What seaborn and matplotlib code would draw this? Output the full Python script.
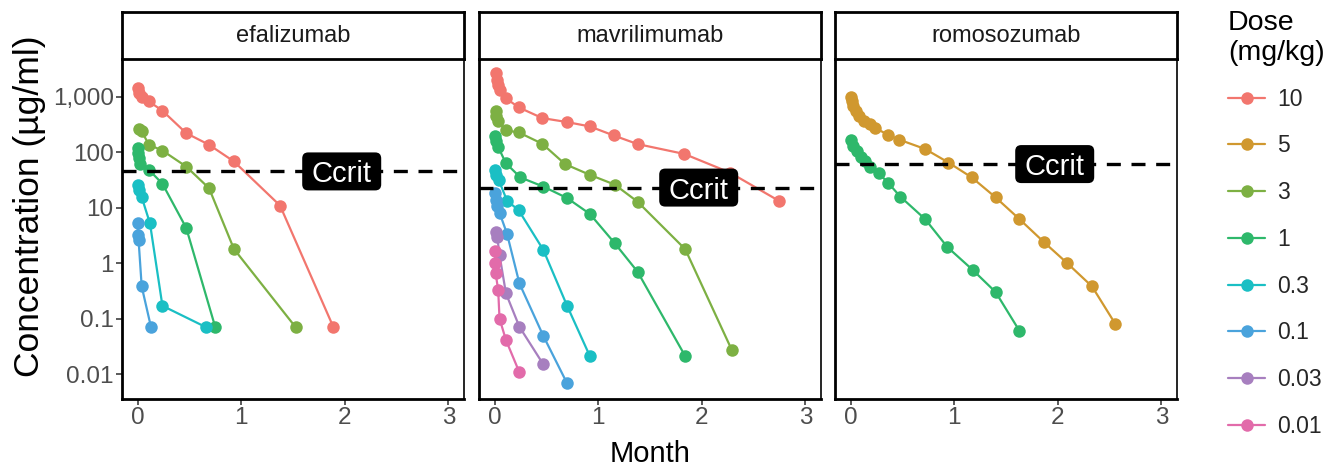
import matplotlib
matplotlib.use("Agg")
import matplotlib.pyplot as plt
from matplotlib.lines import Line2D
from matplotlib.patches import FancyBboxPatch
from matplotlib.transforms import ScaledTranslation
import seaborn as sns
import pandas as pd

# ---------------- data ----------------
DRUGS = ["efalizumab", "mavrilimumab", "romosozumab"]
DOSE_LEVELS = ["10", "5", "3", "1", "0.3", "0.1", "0.03", "0.01"]
DOSE_COLORS = ["#F2766E", "#D0982F", "#7DB043", "#2EB86B",
               "#1ABFC4", "#4AA3DC", "#A77FBF", "#E26BAA"]
CCRIT = [45, 23, 61]
CCRIT_X = 1.97
Y_TICKS = [1000, 100, 10, 1, 0.1, 0.01]
Y_TICK_LABELS = ["1,000", "100", "10", "1", "0.1", "0.01"]
X_TICKS = [0, 1, 2, 3]

# efalizumab
EFA_10_T = [0.0, 0.01, 0.04, 0.11, 0.24, 0.47, 0.69, 0.93, 1.375, 1.89]
EFA_10_C = [1450, 1170, 990, 820, 560, 220, 136, 68, 10.9, 0.07]
EFA_3_T = [0.01, 0.04, 0.11, 0.24, 0.47, 0.69, 0.93, 1.525]
EFA_3_C = [265, 237, 136, 107, 55, 22.4, 1.8, 0.07]
EFA_1_T = [0.0, 0.005, 0.01, 0.02, 0.11, 0.24, 0.47, 0.75]
EFA_1_C = [119, 96, 80, 61, 48, 27, 4.3, 0.07]
EFA_03_T = [0.0, 0.01, 0.04, 0.12, 0.24, 0.66]
EFA_03_C = [26, 21, 15.5, 5.2, 0.17, 0.07]
EFA_01_T = [0.0, 0.005, 0.01, 0.04, 0.13]
EFA_01_C = [5.2, 3.2, 2.6, 0.38, 0.07]

# mavrilimumab
MAV_10_T = [0.016, 0.026, 0.035, 0.048, 0.106, 0.234, 0.46, 0.70, 0.92,
            1.15, 1.38, 1.83, 2.27, 2.74]
MAV_10_C = [2680, 2030, 1650, 1340, 946, 641, 412, 349, 291,
            200, 140, 93, 43, 13.4]
MAV_3_T = [0.01, 0.016, 0.035, 0.11, 0.234, 0.46, 0.68, 0.92, 1.16, 1.38,
           1.84, 2.29]
MAV_3_C = [543, 442, 359, 247, 227, 142, 61, 39, 26, 12.8, 1.78, 0.027]
MAV_1_T = [0.003, 0.01, 0.035, 0.11, 0.25, 0.47, 0.70, 0.92, 1.16, 1.38, 1.84]
MAV_1_C = [192, 156, 124, 63, 35, 24, 14.9, 7.7, 2.28, 0.70, 0.021]
MAV_03_T = [0.003, 0.01, 0.04, 0.12, 0.234, 0.47, 0.70, 0.92]
MAV_03_C = [48, 39, 31.6, 13.4, 8.9, 1.74, 0.17, 0.021]
MAV_01_T = [0.003, 0.01, 0.026, 0.048, 0.12, 0.24, 0.47, 0.70]
MAV_01_C = [18.3, 13.7, 10.5, 8.1, 3.4, 0.43, 0.049, 0.0068]
MAV_003_T = [0.01, 0.026, 0.048, 0.11, 0.24, 0.47]
MAV_003_C = [3.7, 3.0, 1.4, 0.285, 0.071, 0.015]
MAV_001_T = [0.003, 0.007, 0.01, 0.035, 0.048, 0.11, 0.24]
MAV_001_C = [1.68, 1.0, 0.66, 0.33, 0.10, 0.041, 0.0107]

# romosozumab
ROM_5_T = [0.006, 0.016, 0.026, 0.048, 0.08, 0.128, 0.19, 0.24, 0.36, 0.47,
           0.72, 0.945, 1.17, 1.40, 1.63, 1.865, 2.09, 2.33, 2.555]
ROM_5_C = [988, 823, 668, 543, 442, 359, 320, 272, 206, 168,
           114, 65, 35, 15.3, 6.2, 2.4, 1.0, 0.38, 0.08]
ROM_1_T = [0.006, 0.026, 0.058, 0.10, 0.144, 0.186, 0.27, 0.36, 0.48, 0.72,
           0.935, 1.18, 1.40, 1.63]
ROM_1_C = [168, 130, 103, 83, 68, 55, 42, 28.4, 15.8, 6.2,
           1.94, 0.75, 0.30, 0.06]

SERIES = [
    ("efalizumab", "10", EFA_10_T, EFA_10_C),
    ("efalizumab", "3", EFA_3_T, EFA_3_C),
    ("efalizumab", "1", EFA_1_T, EFA_1_C),
    ("efalizumab", "0.3", EFA_03_T, EFA_03_C),
    ("efalizumab", "0.1", EFA_01_T, EFA_01_C),
    ("mavrilimumab", "10", MAV_10_T, MAV_10_C),
    ("mavrilimumab", "3", MAV_3_T, MAV_3_C),
    ("mavrilimumab", "1", MAV_1_T, MAV_1_C),
    ("mavrilimumab", "0.3", MAV_03_T, MAV_03_C),
    ("mavrilimumab", "0.1", MAV_01_T, MAV_01_C),
    ("mavrilimumab", "0.03", MAV_003_T, MAV_003_C),
    ("mavrilimumab", "0.01", MAV_001_T, MAV_001_C),
    ("romosozumab", "5", ROM_5_T, ROM_5_C),
    ("romosozumab", "1", ROM_1_T, ROM_1_C),
]

rows = []
for drug, dose, ts, cs in SERIES:
    for t, c in zip(ts, cs):
        rows.append({"drug": drug, "dose": dose, "month": t, "conc": c})
df = pd.DataFrame(rows)
palette = dict(zip(DOSE_LEVELS, DOSE_COLORS))

# ---------------- style ----------------
sns.set_style("white")
plt.rcParams["font.family"] = ["Liberation Sans", "DejaVu Sans"]

W, H = 1326, 467
fig = plt.figure(figsize=(W / 100, H / 100), dpi=100)

panel_lefts = [122, 479, 835]
panel_w = 342
panel_top, panel_bot = 59, 399
strip_top = 12

def fx(px):
    return px / W

def fy(py):
    return 1 - py / H

TICK_COLOR = "#4D4D4D"
BOX_W, BOX_H = 0.79, 0.38  # inches

for i, drug in enumerate(DRUGS):
    L = panel_lefts[i]
    ax = fig.add_axes([fx(L), fy(panel_bot), panel_w / W,
                       (panel_bot - panel_top) / H])
    sub = df[df["drug"] == drug]
    sns.lineplot(data=sub, x="month", y="conc", hue="dose",
                 hue_order=[d for d in DOSE_LEVELS if d in set(sub["dose"])],
                 palette=palette, marker="o", markersize=9,
                 markeredgewidth=0, linewidth=1.6, legend=False, ax=ax,
                 estimator=None, sort=True)
    ax.set_yscale("log")
    ax.set_xlim(-0.15, 3.15)
    ax.set_ylim(10 ** -2.45, 10 ** 3.68)
    ax.axhline(CCRIT[i], color="black", lw=2.4, dashes=(4.2, 3.2), zorder=5)
    # label box (black rounded rectangle) centred on (CCRIT_X, CCRIT)
    trans = fig.dpi_scale_trans + ScaledTranslation(CCRIT_X, CCRIT[i],
                                                    ax.transData)
    box = FancyBboxPatch((-BOX_W / 2, -BOX_H / 2), BOX_W, BOX_H,
                         boxstyle="round,pad=0,rounding_size=0.06",
                         fc="black", ec="none", transform=trans, zorder=6,
                         clip_on=False)
    ax.add_patch(box)
    ax.text(CCRIT_X, CCRIT[i], "Ccrit", ha="center", va="center_baseline",
            color="white", fontsize=21, zorder=7)
    ax.set_xticks(X_TICKS)
    ax.set_xticklabels([str(x) for x in X_TICKS])
    ax.set_yticks(Y_TICKS)
    if i == 0:
        ax.set_yticklabels(Y_TICK_LABELS)
    else:
        ax.set_yticklabels([])
    ax.minorticks_off()
    ax.tick_params(axis="both", which="major", length=4, width=1.3,
                   color=TICK_COLOR, labelcolor=TICK_COLOR, labelsize=17.5,
                   pad=2, left=True, bottom=True)
    if i != 0:
        ax.tick_params(axis="y", left=False)
    ax.set_xlabel("")
    ax.set_ylabel("")
    for side in ["left", "bottom"]:
        ax.spines[side].set_linewidth(2.0)
        ax.spines[side].set_color("black")
    for side in ["top", "right"]:
        ax.spines[side].set_linewidth(1.2)
        ax.spines[side].set_color("black")

    # strip
    sax = fig.add_axes([fx(L), fy(panel_top), panel_w / W,
                        (panel_top - strip_top) / H])
    sax.set_xticks([])
    sax.set_yticks([])
    for sp in sax.spines.values():
        sp.set_linewidth(2.0)
        sp.set_color("black")
    sax.text(0.5, 0.5, drug, ha="center", va="center", fontsize=17,
             color="#1A1A1A", transform=sax.transAxes)

fig.text(fx(30), fy(206), "Concentration (µg/ml)", rotation=90,
         ha="center", va="center", fontsize=25.5, color="black")
fig.text(fx(650), fy(454), "Month", ha="center", va="center",
         fontsize=21, color="black")

# legend title and entries
fig.text(fx(1228), fy(10), "Dose\n(mg/kg)", ha="left", va="top",
         fontsize=20.5, color="black", linespacing=1.2)
handles = [Line2D([0], [0], color=c, marker="o", markersize=9,
                  markeredgewidth=0, lw=1.6) for c in DOSE_COLORS]
leg = fig.legend(handles, DOSE_LEVELS,
                 loc="upper left", bbox_to_anchor=(fx(1228), fy(87.7)),
                 frameon=False, fontsize=16.5, borderpad=0,
                 handlelength=1.62, labelspacing=1.035, handletextpad=0.52,
                 borderaxespad=0)

fig.savefig("out.png", dpi=100)
